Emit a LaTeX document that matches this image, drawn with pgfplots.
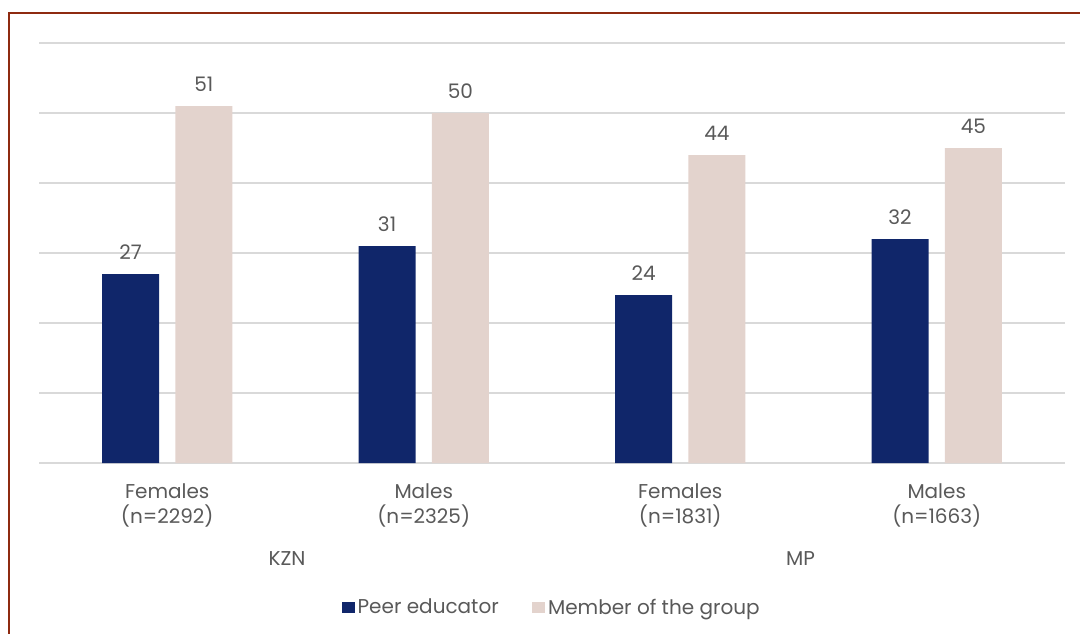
\documentclass[border=0pt]{standalone}
\usepackage{pgfplots}
\pgfplotsset{compat=1.18}
\usepackage{fontspec}
\setmainfont{Poppins}
\definecolor{navy}{HTML}{10266A}
\definecolor{rose}{HTML}{E3D3CD}
\definecolor{txt}{HTML}{595959}
\definecolor{gridc}{HTML}{D9D9D9}
\definecolor{frame}{HTML}{8E2A10}
\begin{document}
\begin{tikzpicture}
\begin{axis}[
  name=ax,
  scale only axis,
  width=769.5pt, height=315pt,
  xmin=-0.5, xmax=3.5,
  ymin=0, ymax=60,
  ytick={0,10,...,60},
  yticklabels={},
  ymajorgrids,
  grid style={gridc, line width=1pt},
  axis line style={draw=none},
  major tick length=0pt,
  /pgf/number format/assume math mode=true,
  xtick={0,1,2,3},
  xticklabels={{Females\\(n=2292)},{Males\\(n=2325)},{Females\\(n=1831)},{Males\\(n=1663)}},
  xticklabel style={align=center, font=\fontsize{15}{18.5}\selectfont, text=txt, yshift=-12pt},
  ybar, bar width=42.75pt,
  nodes near coords,
  every node near coord/.append style={font=\fontsize{15}{18}\selectfont, text=txt, yshift=7pt},
  legend columns=2,
  legend style={at={(0.5,-0.31)}, anchor=north, draw=none, fill=none,
    font=\fontsize{15}{18}\selectfont, text=txt,
    /tikz/every even column/.append style={column sep=23pt}},
  legend image code/.code={\fill[#1] (0pt,-4.25pt) rectangle (10pt,4.25pt);},
  clip=false,
]
\addplot[fill=navy, draw=none, bar shift=-27.5pt] coordinates {(0,27) (1,31) (2,24) (3,32)};
\addlegendentry{Peer educator}
\addplot[fill=rose, draw=none, bar shift=27.5pt] coordinates {(0,51) (1,50) (2,44) (3,45)};
\addlegendentry{Member of the group}
\node[font=\fontsize{15}{18}\selectfont, text=txt, anchor=base] at ([yshift=-76.5pt]axis cs:0.467,0) {KZN};
\node[font=\fontsize{15}{18}\selectfont, text=txt, anchor=base] at ([yshift=-76.5pt]axis cs:2.469,0) {MP};
\end{axis}
\draw[frame, line width=1.5pt] ([shift={(-22.5pt,-130pt)}]ax.south west) -- ([shift={(-22.5pt,337.5pt)}]ax.south west) -- ([shift={(782pt,337.5pt)}]ax.south west);
\pgfresetboundingbox
\path[use as bounding box] ([shift={(-29.25pt,-127.5pt)}]ax.south west) rectangle ([shift={(780.75pt,347.25pt)}]ax.south west);
\end{tikzpicture}
\end{document}
